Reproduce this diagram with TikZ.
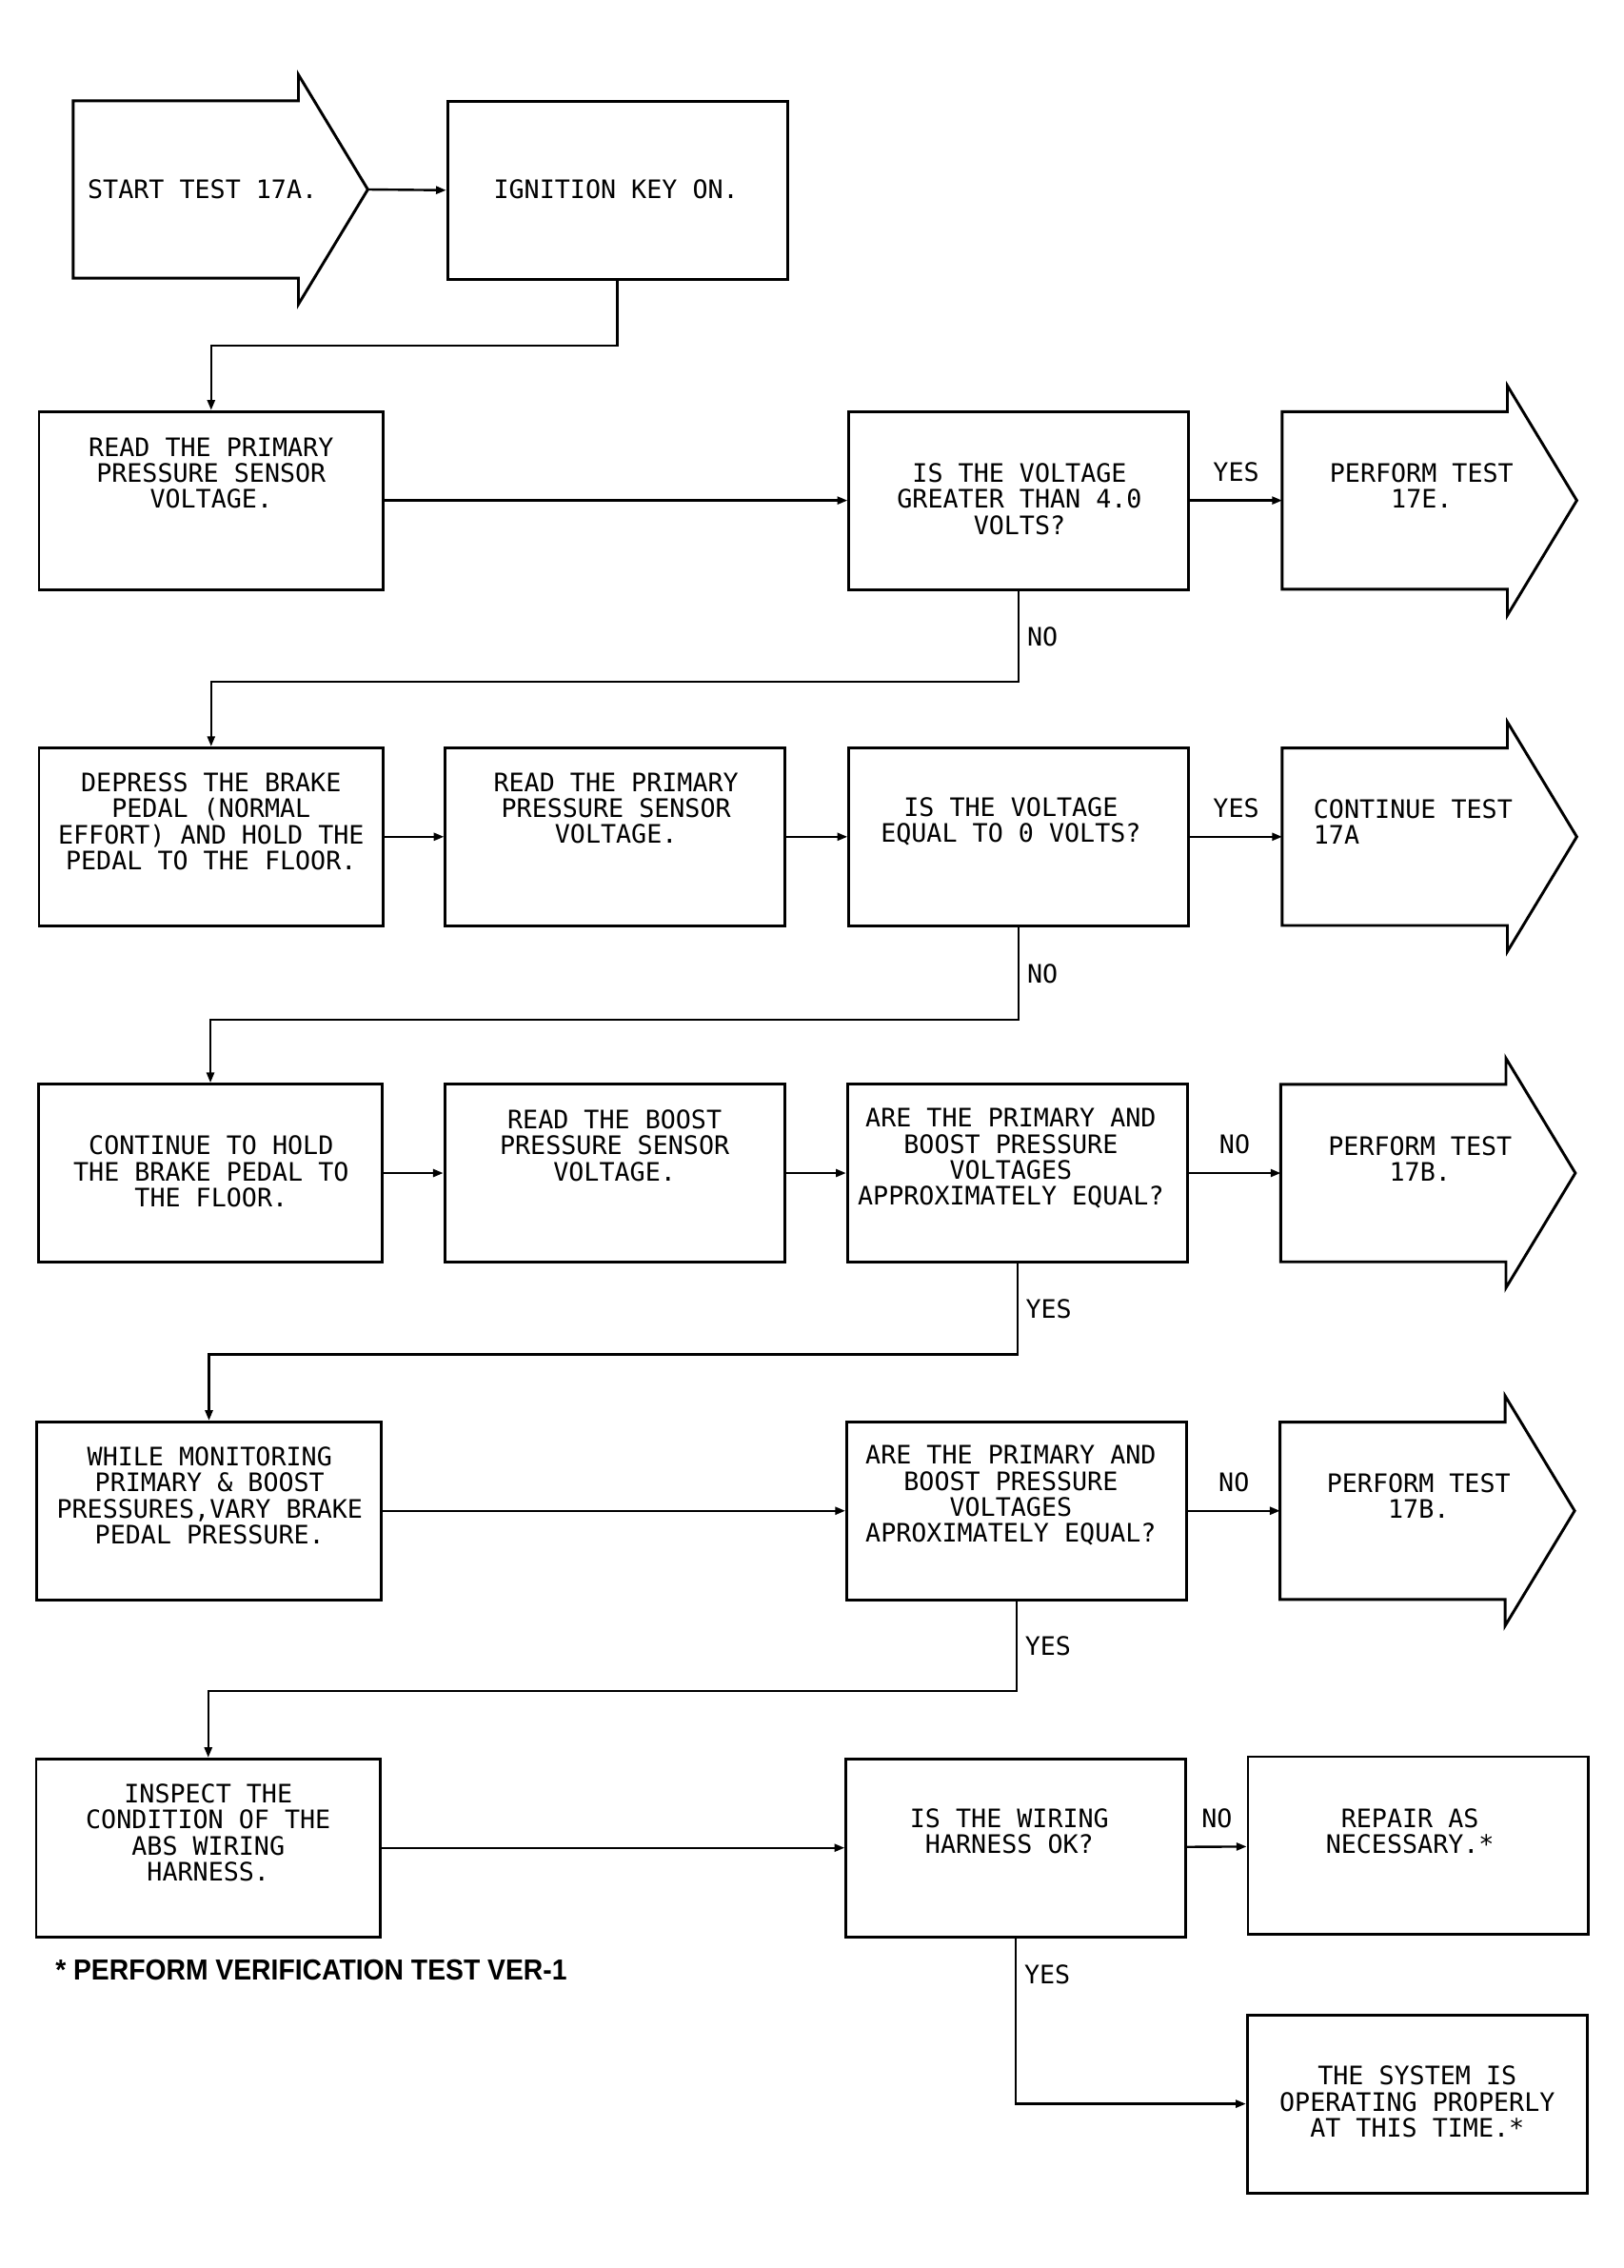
\documentclass[tikz,border=0pt]{standalone}
\usepackage{fontspec}
\newfontfamily\plotfont{DejaVu Sans Mono}
\newfontfamily\notefont[FakeStretch=0.93]{Liberation Sans}
\usetikzlibrary{arrows.meta}
\begin{document}
\begin{tikzpicture}[x=0.2mm,y=-0.2mm,
      box/.style={draw,line width=1.1pt,minimum width=47mm,minimum height=24.6mm,inner sep=0pt},
      wide/.style={minimum width=47.6mm},
      arrowbody/.style={minimum width=31mm,minimum height=24.4mm,inner sep=0pt},
      txt/.style={font=\plotfont\fontsize{10}{10.2}\selectfont,align=center,inner sep=0pt},
      lbl/.style={font=\plotfont\fontsize{10}{10.2}\selectfont,inner sep=0pt},
      flow/.style={line width=0.9pt,-{Triangle[length=4pt,width=3pt]}}]%
      \useasboundingbox (0,0) rectangle (1123,1568);%
      % ~ row 1
      \node[arrowbody] (start) at (128.5,131) {};
      \node[txt] (start-t) at (140,131) {START TEST 17A.};
      \node[box] (ign) at (427,131.5) {};
      \node[txt] (ign-t) at (426,131) {IGNITION KEY ON.};
      % ~ row 2
      \node[box,wide] (read1) at (146,346) {};
      \node[txt] (read1-t) at (146,327) {READ THE PRIMARY\\PRESSURE SENSOR\\VOLTAGE.};
      \node[box] (is1) at (704.5,346) {};
      \node[txt] (is1-t) at (705,345) {IS THE VOLTAGE\\GREATER THAN 4.0\\VOLTS?};
      \node[arrowbody] (p17e) at (964.5,346) {};
      \node[txt] (p17e-t) at (983,336) {PERFORM TEST\\17E.};
      % ~ row 3
      \node[box,wide] (dep) at (146,578.5) {};
      \node[txt] (dep-t) at (146,568) {DEPRESS THE BRAKE\\PEDAL (NORMAL\\EFFORT) AND HOLD THE\\PEDAL TO THE FLOOR.};
      \node[box] (read2) at (425.5,578.5) {};
      \node[txt] (read2-t) at (426,559) {READ THE PRIMARY\\PRESSURE SENSOR\\VOLTAGE.};
      \node[box] (is2) at (704.5,578.5) {};
      \node[txt] (is2-t) at (699,568) {IS THE VOLTAGE\\EQUAL TO 0 VOLTS?};
      \node[arrowbody] (cont) at (964.5,578.5) {};
      \node[txt,align=left,anchor=west] (cont-t) at (908,568) {CONTINUE TEST\\17A};
      % ~ row 4
      \node[box,wide] (hold) at (145.5,811) {};
      \node[txt] (hold-t) at (146,810) {CONTINUE TO HOLD\\THE BRAKE PEDAL TO\\THE FLOOR.};
      \node[box] (boost) at (425,811) {};
      \node[txt] (boost-t) at (425,792) {READ THE BOOST\\PRESSURE SENSOR\\VOLTAGE.};
      \node[box] (are1) at (703.5,811) {};
      \node[txt] (are1-t) at (699,801) {ARE THE PRIMARY AND\\BOOST PRESSURE\\VOLTAGES\\APPROXIMATELY EQUAL?};
      \node[arrowbody] (p17b1) at (963.5,811) {};
      \node[txt] (p17b1-t) at (982,801) {PERFORM TEST\\17B.};
      % ~ row 5
      \node[box,wide] (mon) at (144.5,1044.5) {};
      \node[txt] (mon-t) at (145,1034) {WHILE MONITORING\\PRIMARY \& BOOST\\PRESSURES,VARY BRAKE\\PEDAL PRESSURE.};
      \node[box] (are2) at (703,1044.5) {};
      \node[txt] (are2-t) at (699,1034) {ARE THE PRIMARY AND\\BOOST PRESSURE\\VOLTAGES\\APROXIMATELY EQUAL?};
      \node[arrowbody] (p17b2) at (963,1044.5) {};
      \node[txt] (p17b2-t) at (981,1034) {PERFORM TEST\\17B.};
      % ~ row 6
      \node[box,wide] (insp) at (144,1277.5) {};
      \node[txt] (insp-t) at (144,1267) {INSPECT THE\\CONDITION OF THE\\ABS WIRING\\HARNESS.};
      \node[box] (wire) at (702.5,1277.5) {};
      \node[txt] (wire-t) at (698,1266) {IS THE WIRING\\HARNESS OK?};
      \node[box] (rep) at (980.5,1276) {};
      \node[txt] (rep-t) at (975,1266) {REPAIR AS\\NECESSARY.*};
      \node[box] (sys) at (980,1454.5) {};
      \node[txt] (sys-t) at (980,1453) {THE SYSTEM IS\\OPERATING PROPERLY\\AT THIS TIME.*};
      \node[anchor=west,inner sep=0pt,font=\notefont\bfseries\fontsize{11.4}{12}\selectfont] (note) at (38,1362) {* PERFORM VERIFICATION TEST VER-1};
      % ~ big arrows
      \foreach \a in {start,p17e,cont,p17b1,p17b2}%
         {%
            \coordinate (\a-tip) at ([xshift=9.6mm]\a.east);%
            \draw[line width=1.1pt] (\a.north west) -- (\a.north east) -- ++(0,-18) -- (\a-tip)
               -- ([yshift=-3.6mm]\a.south east) -- (\a.south east) -- (\a.south west) -- cycle;%
         }%
      % ~ connectors
      \draw[flow] (start-tip) -- (ign.west);
      \draw[flow] (ign.south) -- ++(0,45) -| (read1.north);
      \draw[flow] (read1) -- (is1);
      \draw[flow] (is1) -- node[lbl,above=2.5mm] (yes1) {YES} (p17e);
      \draw[flow] (is1.south) -- node[lbl,right=1mm] (no1) {NO} ++(0,63) -| (dep.north);
      \draw[flow] (dep) -- (read2);
      \draw[flow] (read2) -- (is2);
      \draw[flow] (is2) -- node[lbl,above=2.5mm] (yes2) {YES} (cont);
      \draw[flow] (is2.south) -- node[lbl,right=1mm] (no2) {NO} ++(0,64) -| (hold.north);
      \draw[flow] (hold) -- (boost);
      \draw[flow] (boost) -- (are1);
      \draw[flow] (are1) -- node[lbl,above=2.5mm] (no3) {NO} (p17b1);
      \draw[flow] (are1.south) -- node[lbl,right=1mm] (yes3) {YES} ++(0,63) -| (mon.north);
      \draw[flow] (mon) -- (are2);
      \draw[flow] (are2) -- node[lbl,above=2.5mm] (no4) {NO} (p17b2);
      \draw[flow] (are2.south) -- node[lbl,right=1mm] (yes4) {YES} ++(0,62) -| (insp.north);
      \draw[flow] (insp) -- (wire);
      \draw[flow] (wire) -- node[lbl,above=2.5mm] (no5) {NO} (rep);
      \draw[flow] (wire.south) |- node[lbl,right=1mm,pos=0.11] (yes5) {YES} (sys.west);
         %
   \end{tikzpicture}
\end{document}
